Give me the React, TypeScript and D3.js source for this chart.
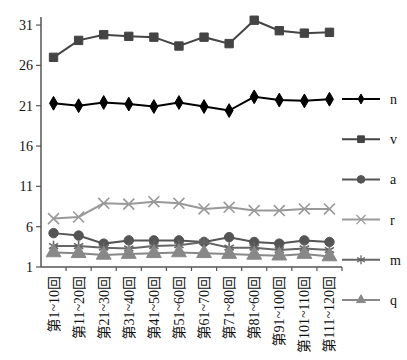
import * as d3 from 'd3';

const categories = [
  '第1~10回', '第11~20回', '第21~30回', '第31~40回', '第41~50回', '第51~60回',
  '第61~70回', '第71~80回', '第81~60回', '第91~100回', '第101~110回', '第111~120回',
];
const yTicks = [1, 6, 11, 16, 21, 26, 31];

const seriesNames = ['n', 'v', 'a', 'r', 'm', 'q'];
const nValues = [21.3, 21.0, 21.4, 21.2, 20.9, 21.4, 20.9, 20.4, 22.1, 21.7, 21.6, 21.8];
const vValues = [27.0, 29.1, 29.8, 29.6, 29.5, 28.4, 29.5, 28.7, 31.6, 30.3, 30.0, 30.1];
const aValues = [5.2, 4.9, 3.9, 4.3, 4.3, 4.3, 4.1, 4.7, 4.1, 3.9, 4.3, 4.1];
const rValues = [7.0, 7.2, 8.9, 8.8, 9.1, 8.9, 8.2, 8.4, 8.0, 8.0, 8.2, 8.2];
const mValues = [3.6, 3.6, 3.4, 3.3, 3.6, 3.7, 4.1, 3.4, 3.4, 3.1, 3.3, 3.1];
const qValues = [2.8, 2.7, 2.5, 2.6, 2.7, 2.8, 2.7, 2.6, 2.5, 2.4, 2.6, 2.3];

const styles = [
  { color: '#000', stroke: 2, symbol: d3.symbolDiamond, size: 55, lsize: 28, fill: true },
  { color: '#444', stroke: 2, symbol: d3.symbolSquare, size: 70, lsize: 45, fill: true },
  { color: '#555', stroke: 2, symbol: d3.symbolCircle, size: 70, lsize: 45, fill: true },
  { color: '#999', stroke: 2, symbol: d3.symbolTimes, size: 80, lsize: 55, fill: false },
  { color: '#666', stroke: 2, symbol: d3.symbolAsterisk, size: 80, lsize: 55, fill: false },
  { color: '#888', stroke: 2, symbol: d3.symbolTriangle, size: 95, lsize: 35, fill: true },
];

const serif = '"Liberation Serif", "Noto Sans CJK SC", serif';

export default function App() {
  const width = 407;
  const height = 360;
  const left = 41, right = 342, top = 17, bottom = 267;

  const x = d3.scaleBand<string>().domain(categories).range([left, right]);
  const y = d3.scaleLinear().domain([1, 32]).range([bottom, top]);
  const allValues = [nValues, vValues, aValues, rValues, mValues, qValues];

  const line = d3.line<number>()
    .x((_, i) => (x(categories[i]) ?? 0) + x.bandwidth() / 2)
    .y(d => y(d));

  const legendY = d3.scalePoint<string>().domain(seriesNames).range([99, 300]);

  return (
    <svg width={width} height={height} style={{ position: 'absolute', left: 0, top: 0 }}>
      <rect width={width} height={height} fill="#fff" />
      {/* y axis */}
      <line x1={left} x2={left} y1={top} y2={bottom} stroke="#555" strokeWidth={1.5} />
      {yTicks.map(t => (
        <g key={t}>
          <line x1={left - 5} x2={left} y1={y(t)} y2={y(t)} stroke="#555" strokeWidth={1.2} />
          <text x={left - 8} y={y(t)} dy="0.35em" textAnchor="end" fontSize={14} fontFamily={serif} fill="#111">{t}</text>
        </g>
      ))}
      {/* x axis */}
      <line x1={left} x2={right} y1={bottom} y2={bottom} stroke="#555" strokeWidth={1.5} />
      {categories.map((c, i) => (
        <line key={'t' + i} x1={(x(c) ?? 0) + x.bandwidth()} x2={(x(c) ?? 0) + x.bandwidth()} y1={bottom} y2={bottom + 4} stroke="#555" strokeWidth={1.2} />
      ))}
      {categories.map(c => {
        const cx = (x(c) ?? 0) + x.bandwidth() / 2;
        return (
          <text key={c} transform={`translate(${cx + 5},${bottom + 9}) rotate(-90)`} textAnchor="end"
            fontSize={14} fontFamily={serif} fill="#111">{c}</text>
        );
      })}
      {/* series */}
      {allValues.map((vals, si) => {
        const s = styles[si];
        const sym = d3.symbol(s.symbol, s.size)();
        return (
          <g key={seriesNames[si]}>
            <path d={line(vals) ?? ''} fill="none" stroke={s.color} strokeWidth={s.stroke} />
            {vals.map((v, i) => (
              <path key={i} d={sym ?? ''}
                transform={`translate(${(x(categories[i]) ?? 0) + x.bandwidth() / 2},${y(v)})`}
                fill={s.fill ? s.color : 'none'} stroke={s.color} strokeWidth={s.fill ? 1 : 1.6} />
            ))}
          </g>
        );
      })}
      {/* legend */}
      {seriesNames.map((name, si) => {
        const s = styles[si];
        const ly = legendY(name) ?? 0;
        const sym = d3.symbol(s.symbol, s.lsize)();
        return (
          <g key={'l' + name}>
            <line x1={342} x2={380} y1={ly} y2={ly} stroke={s.color} strokeWidth={2} />
            <path d={sym ?? ''} transform={`translate(361,${ly})`}
              fill={s.fill ? s.color : 'none'} stroke={s.color} strokeWidth={s.fill ? 1 : 1.3} />
            <text x={390} y={ly} dy="0.35em" fontSize={14} fontFamily={serif} fill="#111">{name}</text>
          </g>
        );
      })}
    </svg>
  );
}
